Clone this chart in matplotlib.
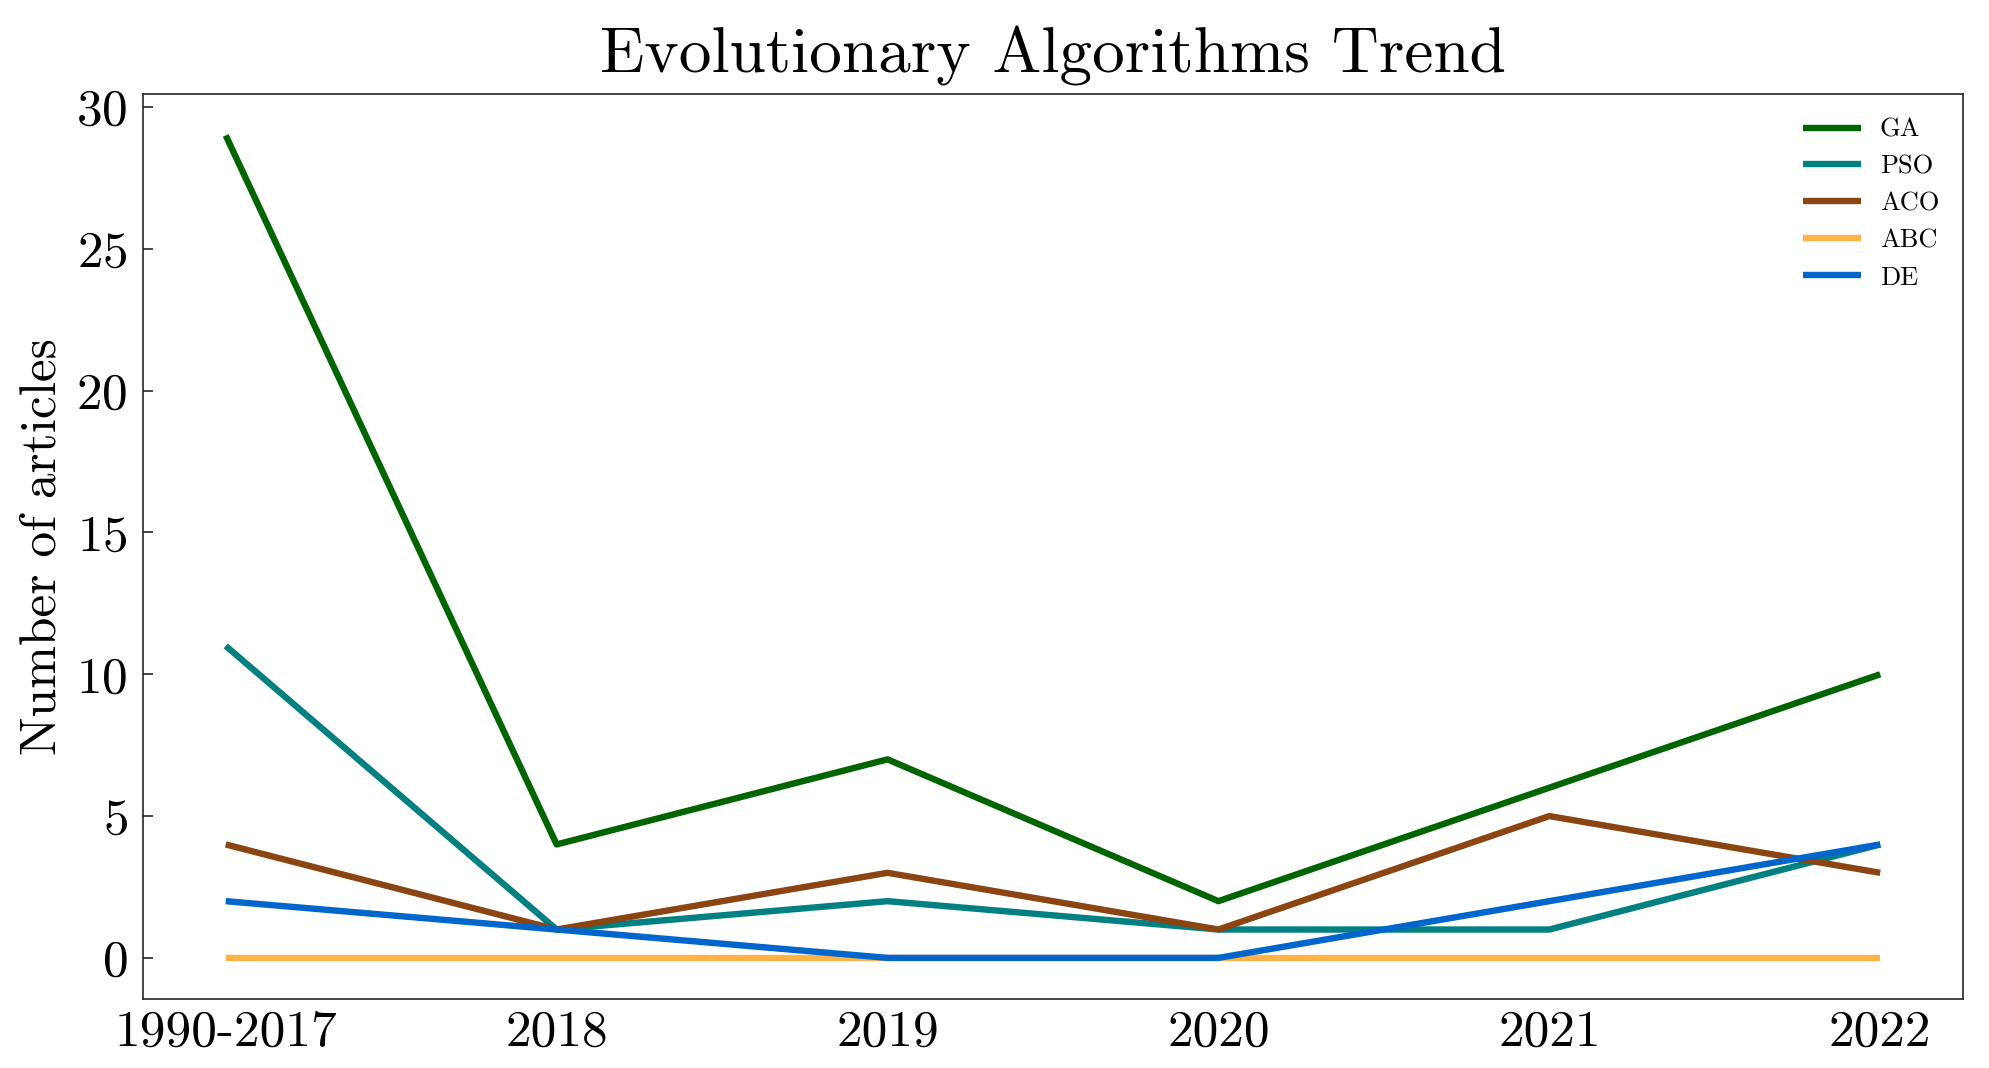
import matplotlib
matplotlib.use("Agg")
import matplotlib.pyplot as plt

categories = ["1990-2017", "2018", "2019", "2020", "2021", "2022"]
ga = [29, 4, 7, 2, 6, 10]
pso = [11, 1, 2, 1, 1, 4]
aco = [4, 1, 3, 1, 5, 3]
abc = [0, 0, 0, 0, 0, 0]
de = [2, 1, 0, 0, 2, 4]
series_names = ["GA", "PSO", "ACO", "ABC", "DE"]
colors = ["#006400", "#008080", "#8B4513", "#FFB347", "#0066CC"]

plt.rcParams["font.family"] = ["cmr10", "DejaVu Serif"]
plt.rcParams["mathtext.fontset"] = "cm"
plt.rcParams["axes.formatter.use_mathtext"] = True

fig = plt.figure(figsize=(9.945, 5.34), dpi=200)
ax = fig.add_axes([0.0719, 0.0646, 0.9150, 0.8471])

x = list(range(len(categories)))
for name, vals, c in zip(series_names, [ga, pso, aco, abc, de], colors):
    ax.plot(x, vals, color=c, lw=2.3, label=name, solid_capstyle="butt")

ax.set_xticks(x)
ax.set_xticklabels(categories)
ax.set_yticks([0, 5, 10, 15, 20, 25, 30])
ax.tick_params(axis="y", direction="in", length=3.5, width=0.6, labelsize=18.5, pad=5.5, color="#262626")
ax.tick_params(axis="x", length=0, labelsize=18.5, pad=4)
for s in ax.spines.values():
    s.set_linewidth(0.6)
    s.set_color("#262626")

ax.set_ylabel("Number of articles", fontsize=18.5)
ax.set_title("Evolutionary Algorithms Trend", fontsize=23.5, pad=8)
ax.legend(loc="upper right", frameon=False, fontsize=9.5, handlelength=2.2, handletextpad=0.7)

fig.savefig("out.png", dpi=200)
